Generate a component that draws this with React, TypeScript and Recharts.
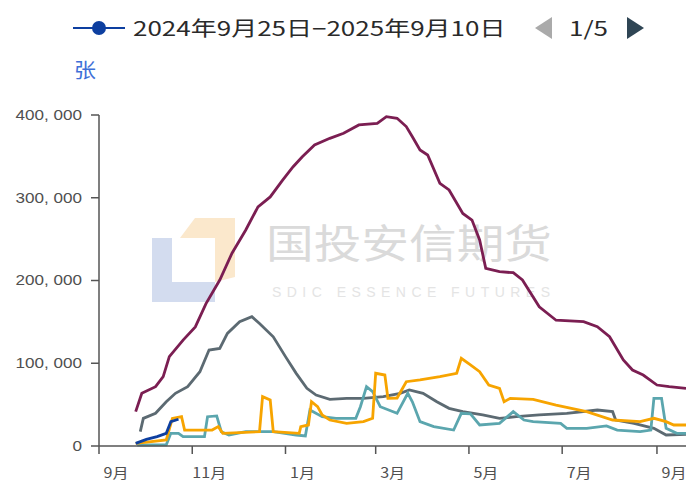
import { LineChart, Line, XAxis, YAxis } from 'recharts'

type Pt = [string, number]

const legendLabel = '2024年9月25日−2025年9月10日'
const unitLabel = '张'
const pageLabel = '1/5'
const brandCn = '国投安信期货'
const brandEn = 'SDIC ESSENCE FUTURES'

const xTickDates = ['2024-09-01', '2024-11-01', '2025-01-01', '2025-03-01', '2025-05-01', '2025-07-01', '2025-09-01']
const xTickLabels = ['9月', '11月', '1月', '3月', '5月', '7月', '9月']
const yTicks = [0, 100000, 200000, 300000, 400000]
const xEndDate = '2025-09-20'

// 2024-09-25 ~ 2025-09-10 (legend series, only the first weeks are drawn)
const currentSeason: Pt[] = [
  ['2024-09-25', 3200], ['2024-10-02', 8000], ['2024-10-09', 11300], ['2024-10-15', 15300],
  ['2024-10-18', 29400], ['2024-10-23', 32300],
]

const seasonMaroon: Pt[] = [
  ['2024-09-25', 41500], ['2024-09-29', 63700], ['2024-10-08', 71700], ['2024-10-13', 83800],
  ['2024-10-17', 108000], ['2024-10-26', 128000], ['2024-11-03', 144000], ['2024-11-10', 172000],
  ['2024-11-19', 200600], ['2024-11-27', 233000], ['2024-12-06', 261000], ['2024-12-14', 289000],
  ['2024-12-22', 301000], ['2024-12-30', 321000], ['2025-01-06', 337500], ['2025-01-12', 349600],
  ['2025-01-20', 363800], ['2025-01-30', 371800], ['2025-02-08', 377900], ['2025-02-18', 388000],
  ['2025-03-02', 390000], ['2025-03-08', 398000], ['2025-03-15', 396000], ['2025-03-21', 386000],
  ['2025-03-25', 373800], ['2025-03-30', 357700], ['2025-04-04', 351700], ['2025-04-12', 317500],
  ['2025-04-18', 309400], ['2025-04-27', 281000], ['2025-05-03', 273000], ['2025-05-08', 249000],
  ['2025-05-12', 214700], ['2025-05-21', 210600], ['2025-05-30', 209400], ['2025-06-05', 200600],
  ['2025-06-16', 168300], ['2025-06-27', 152000], ['2025-07-15', 150200], ['2025-07-24', 144200],
  ['2025-08-01', 132000], ['2025-08-10', 104000], ['2025-08-16', 91800], ['2025-08-23', 85800],
  ['2025-09-01', 73700], ['2025-09-09', 71700], ['2025-09-20', 69700],
]

const seasonSlate: Pt[] = [
  ['2024-09-28', 17300], ['2024-09-30', 33400], ['2024-10-08', 39500], ['2024-10-15', 53500],
  ['2024-10-21', 63700], ['2024-10-29', 71700], ['2024-11-06', 89800], ['2024-11-12', 116000],
  ['2024-11-19', 118000], ['2024-11-24', 136000], ['2024-12-02', 150200], ['2024-12-10', 156300],
  ['2024-12-15', 148000], ['2024-12-24', 132000], ['2025-01-01', 108000], ['2025-01-08', 87800],
  ['2025-01-15', 69700], ['2025-01-21', 61600], ['2025-01-30', 56400], ['2025-02-10', 57600],
  ['2025-02-21', 57600], ['2025-03-06', 59600], ['2025-03-17', 63700], ['2025-03-23', 67700],
  ['2025-04-01', 63700], ['2025-04-10', 53500], ['2025-04-18', 45500], ['2025-04-27', 41500],
  ['2025-05-10', 37500], ['2025-05-21', 33400], ['2025-06-01', 35400], ['2025-06-16', 37500],
  ['2025-07-04', 39500], ['2025-07-24', 43500], ['2025-08-03', 41500], ['2025-08-05', 31400],
  ['2025-08-17', 27400], ['2025-08-30', 21400], ['2025-09-07', 13300], ['2025-09-20', 14100],
]

const seasonOrange: Pt[] = [
  ['2024-09-25', 3200], ['2024-10-15', 7300], ['2024-10-19', 33400], ['2024-10-25', 35400],
  ['2024-10-27', 19300], ['2024-11-14', 19300], ['2024-11-18', 23400], ['2024-11-21', 15300],
  ['2024-12-15', 17300], ['2024-12-17', 59600], ['2024-12-22', 55600], ['2024-12-24', 17300],
  ['2025-01-10', 15300], ['2025-01-11', 23300], ['2025-01-16', 25400], ['2025-01-18', 53500],
  ['2025-01-22', 47500], ['2025-01-25', 37500], ['2025-01-30', 31400], ['2025-02-10', 27400],
  ['2025-02-21', 29400], ['2025-02-27', 33500], ['2025-03-01', 87900], ['2025-03-07', 85800],
  ['2025-03-09', 57600], ['2025-03-15', 58000], ['2025-03-21', 77700], ['2025-03-30', 79800],
  ['2025-04-12', 83700], ['2025-04-23', 87900], ['2025-04-26', 106000], ['2025-05-02', 97900],
  ['2025-05-08', 89800], ['2025-05-14', 73700], ['2025-05-21', 69700], ['2025-05-24', 53500],
  ['2025-05-28', 57600], ['2025-06-12', 56400], ['2025-06-27', 49500], ['2025-07-17', 41500],
  ['2025-08-03', 31400], ['2025-08-21', 29400], ['2025-08-30', 33500], ['2025-09-07', 29400],
  ['2025-09-12', 25400], ['2025-09-20', 25400],
]

const seasonTeal: Pt[] = [
  ['2024-09-26', 1000], ['2024-10-15', 1500], ['2024-10-18', 15300], ['2024-10-23', 15300],
  ['2024-10-26', 11300], ['2024-11-09', 11300], ['2024-11-11', 35400], ['2024-11-17', 36300],
  ['2024-11-20', 17300], ['2024-11-25', 13300], ['2024-12-06', 17300], ['2024-12-24', 17300],
  ['2025-01-08', 13300], ['2025-01-14', 12100], ['2025-01-17', 43500], ['2025-01-25', 35400],
  ['2025-02-03', 33500], ['2025-02-16', 33500], ['2025-02-19', 47500], ['2025-02-23', 71700],
  ['2025-02-27', 65600], ['2025-03-04', 47500], ['2025-03-15', 39500], ['2025-03-22', 63700],
  ['2025-03-25', 53500], ['2025-03-30', 29400], ['2025-04-08', 23400], ['2025-04-21', 19300],
  ['2025-04-26', 39500], ['2025-05-02', 38700], ['2025-05-08', 25400], ['2025-05-21', 27400],
  ['2025-05-30', 41500], ['2025-06-06', 31400], ['2025-06-12', 29400], ['2025-06-30', 27400],
  ['2025-07-04', 21400], ['2025-07-17', 21400], ['2025-07-30', 24200], ['2025-08-06', 19300],
  ['2025-08-21', 17300], ['2025-08-28', 19300], ['2025-08-30', 57600], ['2025-09-04', 57600],
  ['2025-09-07', 21400], ['2025-09-14', 15300], ['2025-09-20', 15300],
]

const DAY0 = Date.UTC(2024, 8, 1)
const toDay = (s: string) =>
  Math.round((Date.UTC(+s.slice(0, 4), +s.slice(5, 7) - 1, +s.slice(8, 10)) - DAY0) / 86400000)
const rows = (pts: Pt[]) => pts.map(([d, v]) => ({ d: toDay(d), v }))

const xTickDays = xTickDates.map(toDay)
const font = "'Liberation Sans', 'Noto Sans CJK SC', sans-serif"
const cjk = "'Noto Sans CJK SC', 'Liberation Sans', sans-serif"

const fmt = (v: number) => v.toLocaleString('en-US').replace(/,/g, ', ')

const YTick = ({ x, y, payload }: any) => (
  <text transform={`translate(${x},${y}) scale(1.22,1)`} textAnchor="end" dy="0.35em" fontSize={14} fill="#505050" fontFamily={font}>
    {fmt(payload.value)}
  </text>
)

const XTick = ({ x, y, payload }: any) => (
  <text transform={`translate(${x + 17},${y + 22}) scale(1.15,1)`} textAnchor="middle" fontSize={14} fill="#505050" fontFamily={cjk}>
    {xTickLabels[xTickDays.indexOf(payload.value)]}
  </text>
)

const series = [
  { key: 'maroon', pts: seasonMaroon, color: '#7b1e52' },
  { key: 'slate', pts: seasonSlate, color: '#5c6a72' },
  { key: 'teal', pts: seasonTeal, color: '#5ba6ae' },
  { key: 'orange', pts: seasonOrange, color: '#f7a400' },
  { key: 'current', pts: currentSeason, color: '#0d3fa0' },
]

function Watermark() {
  return (
    <svg width={686} height={484} style={{ position: 'absolute', left: 0, top: 0 }}>
      <polygon points="152,238 172,238 172,282 215,282 215,302 152,302" fill="#d3dcef" />
      <polygon points="180,238 195,218 235,218 235,277 215,282 215,238" fill="#fbe8cc" />
      <text x={266} y={258} fontSize={40} fill="#dadada" fontFamily={cjk} textLength={286} lengthAdjust="spacingAndGlyphs">
        {brandCn}
      </text>
      <text x={272} y={297} fontSize={14} fill="#e4e4e4" fontFamily={font} textLength={278} lengthAdjust="spacing">
        {brandEn}
      </text>
    </svg>
  )
}

function Legend() {
  return (
    <div style={{ position: 'absolute', left: 0, top: 0, width: 686, height: 90, fontFamily: cjk, color: '#2a2a2a' }}>
      <div style={{ position: 'absolute', left: 73, top: 27, width: 52, height: 2, background: '#0d3fa0' }} />
      <div style={{ position: 'absolute', left: 92, top: 21, width: 14, height: 14, borderRadius: '50%', background: '#0d3fa0' }} />
      <div style={{ position: 'absolute', left: 133, top: 16, fontSize: 20, lineHeight: '24px', whiteSpace: 'nowrap', transform: 'scaleX(1.3)', transformOrigin: 'left' }}>
        {legendLabel}
      </div>
      <div style={{ position: 'absolute', left: 535, top: 17, width: 0, height: 0, borderTop: '11px solid transparent', borderBottom: '11px solid transparent', borderRight: '17px solid #aaa' }} />
      <div style={{ position: 'absolute', left: 569, top: 16, fontSize: 20, lineHeight: '24px', transform: 'scaleX(1.3)', transformOrigin: 'left' }}>
        {pageLabel}
      </div>
      <div style={{ position: 'absolute', left: 627, top: 17, width: 0, height: 0, borderTop: '11px solid transparent', borderBottom: '11px solid transparent', borderLeft: '17px solid #2f4554' }} />
      <div style={{ position: 'absolute', left: 74, top: 58, fontSize: 20, lineHeight: '24px', color: '#3e6fd8', transform: 'scaleX(1.1)', transformOrigin: 'left' }}>
        {unitLabel}
      </div>
    </div>
  )
}

export default function App() {
  return (
    <div style={{ position: 'absolute', left: 0, top: 0, width: 686, height: 484, background: '#fff', overflow: 'hidden' }}>
      <Watermark />
      <Legend />
      <div style={{ position: 'absolute', left: 0, top: 0 }}>
        <LineChart width={686} height={484} margin={{ top: 115, right: 0, bottom: 0, left: 0 }}>
          <XAxis
            type="number"
            dataKey="d"
            domain={[0, toDay(xEndDate)]}
            ticks={xTickDays}
            interval={0}
            allowDataOverflow
            height={38}
            tickSize={8}
            stroke="#555"
            strokeWidth={1.5}
            tick={<XTick />}
          />
          <YAxis
            type="number"
            domain={[0, 400000]}
            ticks={yTicks}
            interval={0}
            width={99}
            tickSize={8}
            tickMargin={9}
            stroke="#555"
            strokeWidth={1.5}
            tick={<YTick />}
          />
          {series.map(s => (
            <Line
              key={s.key}
              data={rows(s.pts)}
              dataKey="v"
              type="linear"
              stroke={s.color}
              strokeWidth={2.8}
              dot={false}
              activeDot={false}
              isAnimationActive={false}
            />
          ))}
        </LineChart>
      </div>
    </div>
  )
}
